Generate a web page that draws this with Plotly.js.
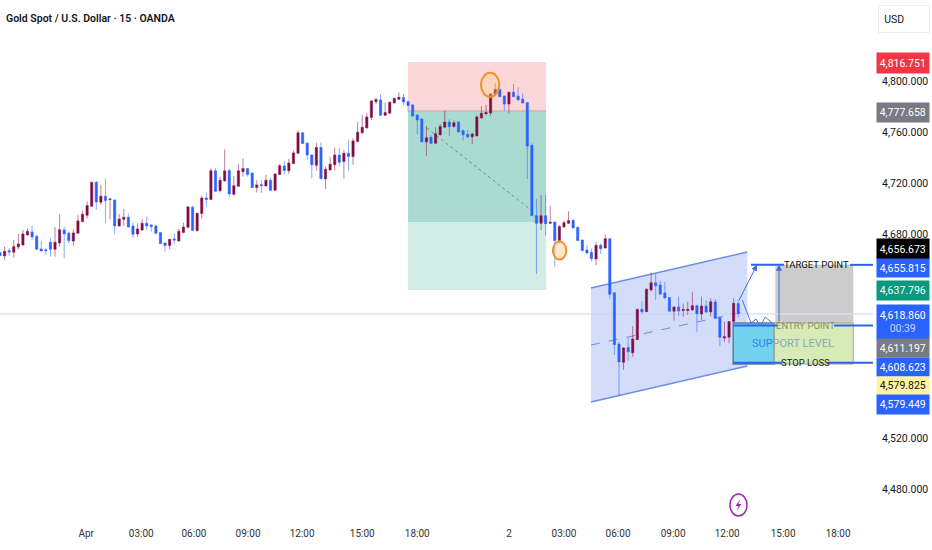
<!DOCTYPE html>
<html><head><meta charset="utf-8">
<script src="https://cdn.plot.ly/plotly-3.0.1.min.js"></script>
<style>html,body{margin:0;padding:0;background:#fff}#c{width:932px;height:550px}</style></head>
<body><div id="c"></div>
<script>
const openP=[4665.4,4662.8,4666.9,4665.7,4669.8,4671.4,4679.2,4681.6,4678.2,4668.3,4667.7,4673.5,4668.0,4673.0,4683.2,4680.6,4674.5,4680.6,4689.7,4694.7,4701.7,4720.6,4704.9,4709.6,4707.0,4706.7,4686.3,4691.5,4693.1,4686.3,4680.0,4683.2,4688.4,4687.1,4686.3,4681.1,4673.0,4670.9,4676.1,4674.5,4681.1,4685.2,4701.0,4682.6,4696.0,
4708.3,4707.0,4729.5,4714.0,4721.6,4729.7,4711.2,4717.4,4728.9,4731.3,4727.9,4716.4,4718.7,4717.7,4722.1,4714.3,4726.6,4733.4,4729.5,4735.2,4743.3,4759.3,4751.4,4742.0,4733.9,4747.8,4723.2,4730.2,4734.2,4742.0,4736.8,4743.3,4740.7,4752.5,4759.3,4763.2,4771.3,4783.8,4785.1,4773.1,4774.7,4782.8,4785.7,4787.0,4783.8,
4781.2,4773.3,4770.2,4752.2,4755.8,4751.1,4757.9,4763.7,4767.8,4764.2,4767.8,4761.0,4758.2,4756.3,4756.9,4771.0,4774.1,4774.9,4789.3,4793.4,4788.2,4781.9,4791.1,4788.2,4785.9,4783.0,4749.5,4694.4,4688.4,4694.4,4688.4,4689.4,4674.8,4685.5,4688.4,4690.7,4685.2,4675.3,4667.5,4665.6,4660.4,4671.1,4669.0,4676.3,
4634.0,4593.7,4579.4,4590.9,4586.9,4597.1,4620.9,4619.1,4636.1,4641.8,4640.0,4633.7,4630.1,4619.4,4622.8,4619.9,4619.9,4620.4,4623.8,4617.3,4623.5,4618.8,4626.7,4614.4,4598.4,4599.0,4611.3,4625.4];
const highP=[4665.4,4670.1,4668.8,4675.3,4680.0,4683.2,4684.5,4686.3,4679.2,4674.5,4669.3,4676.9,4685.5,4695.5,4685.8,4681.9,4683.7,4694.7,4698.3,4705.4,4720.6,4721.6,4718.5,4723.4,4707.5,4706.7,4695.7,4699.6,4696.2,4688.9,4688.4,4691.5,4693.6,4687.6,4687.3,4681.1,4673.2,4675.8,4680.6,4684.0,4688.9,4702.3,4702.0,4696.2,4709.8,
4712.5,4731.5,4731.5,4725.0,4746.4,4731.5,4725.5,4734.7,4739.4,4731.8,4728.1,4722.1,4722.1,4726.3,4723.9,4727.4,4734.9,4737.3,4738.9,4745.4,4761.3,4760.0,4751.7,4742.3,4751.7,4751.7,4732.9,4740.7,4747.8,4747.5,4745.9,4753.8,4755.1,4767.9,4773.4,4774.7,4785.1,4787.0,4789.6,4783.0,4783.8,4787.2,4791.1,4789.8,4785.1,
4781.9,4773.8,4770.7,4764.7,4757.6,4763.7,4766.3,4776.7,4769.9,4768.9,4768.6,4762.1,4761.6,4759.5,4773.3,4780.4,4781.2,4790.3,4798.2,4794.2,4788.7,4791.6,4797.6,4795.0,4790.3,4783.5,4751.1,4707.5,4710.6,4710.6,4702.2,4689.7,4687.1,4690.5,4697.8,4691.5,4685.5,4675.6,4671.4,4668.5,4674.0,4672.7,4679.7,4676.6,
4634.3,4595.6,4591.1,4598.2,4607.9,4621.7,4627.5,4637.4,4649.7,4648.6,4643.4,4642.6,4630.3,4623.0,4630.9,4625.6,4626.9,4634.5,4624.3,4630.9,4628.2,4629.6,4628.8,4614.7,4611.3,4611.8,4629.6,4628.2];
const lowP=[4663.0,4659.6,4662.8,4661.5,4668.0,4670.9,4678.7,4675.3,4667.7,4666.4,4663.6,4662.3,4662.3,4670.1,4661.0,4672.7,4670.9,4680.6,4689.2,4692.3,4701.5,4698.9,4702.8,4688.4,4691.5,4679.8,4685.8,4686.3,4685.2,4677.2,4677.9,4682.4,4683.2,4681.9,4679.5,4672.2,4666.2,4668.0,4672.2,4674.0,4680.6,4684.7,4682.6,4682.1,4692.0,
4701.2,4706.7,4713.2,4712.5,4721.3,4708.8,4709.8,4717.2,4725.0,4725.0,4716.1,4712.5,4712.0,4717.2,4714.0,4714.0,4726.3,4726.8,4727.1,4734.9,4743.0,4750.6,4738.3,4723.7,4729.7,4723.2,4715.3,4729.7,4729.7,4732.9,4723.4,4729.5,4734.2,4751.7,4758.7,4762.7,4769.4,4781.7,4772.8,4772.6,4774.4,4782.3,4785.1,4780.9,4776.0,
4772.0,4758.2,4751.9,4741.2,4750.6,4750.6,4756.9,4762.9,4756.9,4763.7,4759.7,4753.2,4755.8,4750.6,4756.6,4770.7,4773.9,4772.8,4789.0,4787.4,4776.5,4774.6,4787.4,4784.8,4782.5,4723.1,4694.1,4648.6,4683.1,4679.0,4687.8,4654.4,4672.7,4685.2,4687.8,4684.5,4674.5,4666.7,4664.3,4658.6,4655.7,4664.3,4668.5,4628.8,
4585.1,4553.2,4573.4,4580.7,4583.8,4596.9,4617.3,4618.8,4634.8,4628.2,4632.2,4629.6,4619.1,4612.0,4615.7,4615.2,4616.5,4619.9,4602.9,4612.6,4618.3,4615.2,4613.6,4592.2,4595.6,4594.3,4611.0,4614.7];
const closeP=[4663.0,4666.4,4665.9,4670.1,4672.2,4680.0,4682.1,4677.7,4668.0,4666.7,4666.9,4668.0,4673.5,4683.4,4680.0,4674.8,4680.8,4690.2,4695.5,4702.3,4720.6,4705.1,4709.6,4706.2,4707.5,4686.3,4691.8,4693.1,4685.5,4679.8,4684.0,4688.4,4686.3,4685.8,4680.6,4672.5,4670.9,4675.8,4675.3,4682.1,4685.5,4701.2,4682.9,4696.2,4708.3,
4707.0,4729.5,4713.5,4722.1,4729.5,4711.4,4717.9,4729.5,4731.3,4726.6,4716.4,4718.5,4717.9,4722.1,4714.3,4727.1,4733.6,4729.7,4735.7,4743.6,4759.3,4750.9,4742.0,4734.2,4747.8,4723.4,4730.8,4734.7,4742.0,4736.2,4743.3,4740.7,4753.0,4759.8,4763.7,4771.8,4784.3,4785.4,4773.1,4775.2,4783.3,4786.2,4787.2,4783.6,4780.7,
4772.5,4769.4,4752.2,4755.5,4751.1,4758.7,4764.2,4767.8,4764.2,4767.3,4760.0,4757.9,4756.1,4758.4,4771.8,4774.6,4775.2,4789.8,4793.4,4787.7,4781.9,4791.1,4787.7,4785.1,4782.7,4749.0,4694.4,4688.4,4694.4,4688.1,4689.2,4674.8,4685.8,4688.9,4690.5,4684.7,4674.8,4666.9,4665.1,4660.7,4671.1,4668.5,4676.3,4632.7,
4593.2,4579.6,4590.6,4587.7,4597.7,4620.7,4619.1,4636.6,4641.8,4639.5,4632.9,4629.8,4619.4,4622.8,4619.6,4620.9,4620.9,4623.8,4617.5,4623.5,4618.8,4626.9,4613.9,4599.0,4599.5,4611.3,4625.6,4617.5];
const tickValues=[18.8,30.8,42.3,54.1,65.9,79.0,91.0,111.0,123.0,134.8,146.8,158.6,170.8,182.8];
const tickLabels=["Apr","03:00","06:00","09:00","12:00","15:00","18:00","2","03:00","06:00","09:00","12:00","15:00","18:00"];
const priceTicks=[4800,4760,4720,4680,4520,4480];
const priceTickLabels=["4,800.000","4,760.000","4,720.000","4,680.000","4,520.000","4,480.000"];
const candleIndex=openP.map((_,i)=>i);

const W=873,H=520;
const FONT='Roboto, sans-serif';
const px=x=>x/W, py=y=>1-y/H;
const rect=(x0,x1,y0,y1,fill,layer,line)=>({type:'rect',xref:'x',yref:'y',x0,x1,y0,y1,fillcolor:fill,layer,line:line||{width:0}});
const seg=(x0,y0,x1,y1,color,width,dash,layer)=>({type:'line',xref:'x',yref:'y',x0,y0,x1,y1,layer:layer||'above',line:{color,width,dash:dash||'solid'}});
const blue='#2f62e8';
const zzX=[161.9,163.8,164.9,165.8,166.9,168.4], zzY=[4628.2,4610.2,4613.3,4607.8,4614.9,4610.2];
const boltX=[2,-3,0,-2,3,0], boltY=[-6,1,1,6,-1,-1];
const shapes=[
 rect(89,119.1,4776.5,4814.9,'#fcd7d9','below'),
 rect(89,119.1,4689.4,4776.5,'#abdbd0','below'),
 rect(89,119.1,4636.1,4689.4,'#d2ece6','below'),
 seg(89,4776.5,119.1,4776.5,'#c9a9a4',1,'solid','below'),
 seg(93.1,4763.1,115.8,4698.8,'#6f8f88',1,'dot','below'),
 {type:'path',layer:'below',xref:'x',yref:'y',path:'M128.9,4637.6 L163,4665.9 L163,4576.5 L128.9,4548.2 Z',fillcolor:'#d3ddf9',line:{width:0}},
 seg(128.9,4637.6,163,4665.9,'#6d8fe8',1.5,'solid','below'),
 seg(128.9,4548.2,163,4576.5,'#6d8fe8',1.5,'solid','below'),
 seg(128.9,4592.9,163,4619.6,'#6f8bdc',1,'dash','below'),
 seg(0,4617.3,190.4,4617.3,'#c3d3f7',1,'solid','below'),
 {type:'circle',xref:'x',yref:'y',x0:104.9,x1:108.9,y0:4787.6,y1:4806.4,fillcolor:'rgba(255,205,140,0.35)',line:{color:'#f0922c',width:2},layer:'above'},
 {type:'circle',xref:'x',yref:'y',x0:120.6,x1:123.5,y0:4660,y1:4674.2,fillcolor:'rgba(255,205,140,0.45)',line:{color:'#f0922c',width:2},layer:'above'},
 rect(169.1,186.1,4610.2,4655.8,'#cccccc','above'),
 seg(169.1,4617.3,186.1,4617.3,'rgba(225,230,248,0.8)',1.5),
 rect(159.9,168.9,4578,4610.2,'#73d2ef','above',{color:'#5e7f9c',width:1.5}),
 rect(168.9,186.1,4578,4610.2,'#d6ebb5','above',{color:'#a9a98f',width:1}),
 seg(163.8,4655.8,171,4655.8,blue,2), seg(185.4,4655.8,190.4,4655.8,blue,2),
 seg(159.9,4608.2,169.5,4608.2,blue,2), seg(181.9,4608.2,190.4,4608.2,blue,2),
 seg(159.9,4579,170.6,4579,blue,2), seg(180.5,4579,190.4,4579,blue,2),
 {type:'path',xref:'x',yref:'y',layer:'above',path:zzX.map((x,i)=>(i?'L':'M')+x+','+zzY[i]).join(' '),line:{color:'#4a70e0',width:1}},
 {type:'circle',xref:'paper',yref:'paper',x0:px(730),x1:px(747),y0:py(516),y1:py(494),line:{color:'#9c27b0',width:1.5},fillcolor:'#fff'},
 {type:'path',xref:'paper',yref:'paper',path:boltX.map((x,i)=>(i?'L':'M')+px(738.5+x)+','+py(505+boltY[i])).join(' ')+' Z',fillcolor:'#9c27b0',line:{width:0}}
];
const tag=(top,bot,bg,fg,text)=>({xref:'paper',yref:'paper',x:px(875.5),y:py(top),xanchor:'left',yanchor:'top',width:51.5,height:bot-top,showarrow:false,bgcolor:bg,borderpad:0,align:'center',valign:'middle',text,font:{family:FONT,size:10.5,color:fg}});
const note=(x,y,text,size,color)=>({xref:'x',yref:'y',x,y,text,showarrow:false,xanchor:'center',yanchor:'middle',font:{family:FONT,size,color}});
const arrow=(x0,y0,x1,y1)=>({xref:'x',yref:'y',axref:'x',ayref:'y',x:x1,y:y1,ax:x0,ay:y0,text:'',showarrow:true,arrowhead:2,arrowsize:1.2,arrowwidth:1,arrowcolor:'#3f68e0'});
const annotations=[
 tag(52,72,'#f23645','#fff','4,816.751'),
 tag(102,121,'#787b86','#fff','4,777.658'),
 tag(238,258,'#000','#fff','4,656.673'),
 tag(258,276,'#2962ff','#fff','4,655.815'),
 tag(280,299,'#089981','#fff','4,637.796'),
 tag(304,338,'#2962ff','#fff','4,618.860<br><span style="color:#c9d8ff">00:39</span>'),
 tag(338,356,'#787b86','#fff','4,611.197'),
 tag(357,375,'#2962ff','#fff','4,608.623'),
 tag(376,393,'#fff3a0','#111','4,579.825'),
 tag(394,413,'#2962ff','#fff','4,579.449'),
 {xref:'paper',yref:'paper',x:px(878),y:py(5),xanchor:'left',yanchor:'top',width:50,height:26,showarrow:false,bgcolor:'#fff',bordercolor:'#eeeeee',borderwidth:1,borderpad:0,align:'left',text:'&nbsp;&nbsp;USD',font:{family:FONT,size:10.5,color:'#131722'}},
 note(178,4655.8,'TARGET POINT',9.5,'#111'),
 note(175.6,4608.6,'ENTRY POINT',9.5,'#8a8f70'),
 note(175.6,4579.4,'STOP LOSS',9.5,'#222'),
 note(173,4594,'<span style="color:#2f80ea">SUP</span><span style="color:#8ba7bd">PORT LEVEL</span>',11,'#2f80ea'),
 arrow(161,4626.7,165.1,4655.8),
 arrow(169.9,4610.5,169.9,4655.8)
];
Plotly.newPlot('c',[{
 type:'candlestick',x:candleIndex,open:openP,high:highP,low:lowP,close:closeP,
 increasing:{line:{color:'rgba(140,20,80,0.55)',width:1},fillcolor:'#7a0c40'},
 decreasing:{line:{color:'rgba(41,98,255,0.55)',width:1},fillcolor:'#2962ff'},
 whiskerwidth:0,hoverinfo:'skip',showlegend:false
}],{
 width:932,height:550,margin:{l:0,r:59,t:0,b:30,pad:0},
 paper_bgcolor:'#fff',plot_bgcolor:'#fff',showlegend:false,
 title:{text:'Gold Spot / U.S. Dollar · 15 · OANDA',x:6/932,xanchor:'left',xref:'container',y:1-18/550,yanchor:'middle',font:{family:FONT,size:10.5,color:'#131722',weight:600}},
 xaxis:{type:'linear',range:[0,190.4],rangeslider:{visible:false},showgrid:false,zeroline:false,showline:false,tickmode:'array',tickvals:tickValues,ticktext:tickLabels,ticks:'outside',ticklen:4,tickcolor:'rgba(0,0,0,0)',tickfont:{family:FONT,size:10,color:'#333'}},
 yaxis:{type:'linear',side:'right',range:[4455.7,4863.5],showgrid:false,zeroline:false,showline:false,tickmode:'array',tickvals:priceTicks,ticktext:priceTickLabels,ticks:'outside',ticklen:6,tickcolor:'rgba(0,0,0,0)',tickfont:{family:FONT,size:10.5,color:'#131722'}},
 shapes,annotations
},{displayModeBar:false,staticPlot:true});
</script></body></html>
